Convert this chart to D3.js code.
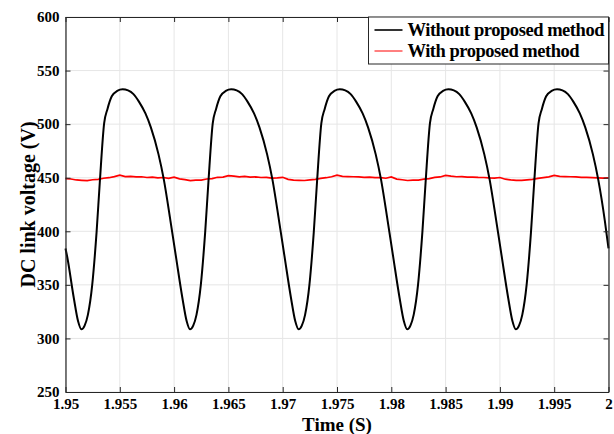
<!DOCTYPE html>
<html lang="en">
<head>
<meta charset="utf-8">
<title>DC link voltage</title>
<script src="https://d3js.org/d3.v7.min.js"></script>
<style>
  body { margin: 0; background: #fff; }
  text { font-family: "Liberation Serif", "Times New Roman", serif; font-weight: bold; }
</style>
</head>
<body>
<div id="chart"></div>
<script>
// Without proposed method (black) - time / voltage
const timeBlack = [
  1.95000, 1.95016, 1.95076, 1.95116,
  1.95146, 1.95176, 1.95206, 1.95246, 1.95286, 1.95316, 1.95356, 1.95386, 1.95426, 1.95476, 1.95526,
  1.95576, 1.95626, 1.95676, 1.95736, 1.95786, 1.95856, 1.95906, 1.95966, 1.96016, 1.96076, 1.96116,
  1.96146, 1.96176, 1.96206, 1.96246, 1.96286, 1.96316, 1.96356, 1.96386, 1.96426, 1.96476, 1.96526,
  1.96576, 1.96626, 1.96676, 1.96736, 1.96786, 1.96856, 1.96906, 1.96966, 1.97016, 1.97076, 1.97116,
  1.97146, 1.97176, 1.97206, 1.97246, 1.97286, 1.97316, 1.97356, 1.97386, 1.97426, 1.97476, 1.97526,
  1.97576, 1.97626, 1.97676, 1.97736, 1.97786, 1.97856, 1.97906, 1.97966, 1.98016, 1.98076, 1.98116,
  1.98146, 1.98176, 1.98206, 1.98246, 1.98286, 1.98316, 1.98356, 1.98386, 1.98426, 1.98476, 1.98526,
  1.98576, 1.98626, 1.98676, 1.98736, 1.98786, 1.98856, 1.98906, 1.98966, 1.99016, 1.99076, 1.99116,
  1.99146, 1.99176, 1.99206, 1.99246, 1.99286, 1.99316, 1.99356, 1.99386, 1.99426, 1.99476, 1.99526,
  1.99576, 1.99626, 1.99676, 1.99736, 1.99786, 1.99856, 1.99906, 1.99966, 2.00000
];
const voltBlack = [
  384, 376, 338, 316,
  308.5, 312, 322, 350, 399, 446, 501, 514, 526, 531, 532.5,
  531.5, 528, 521, 510, 497, 472, 448, 410, 377, 338, 316,
  308.5, 312, 322, 350, 399, 446, 501, 514, 526, 531, 532.5,
  531.5, 528, 521, 510, 497, 472, 448, 410, 377, 338, 316,
  308.5, 312, 322, 350, 399, 446, 501, 514, 526, 531, 532.5,
  531.5, 528, 521, 510, 497, 472, 448, 410, 377, 338, 316,
  308.5, 312, 322, 350, 399, 446, 501, 514, 526, 531, 532.5,
  531.5, 528, 521, 510, 497, 472, 448, 410, 377, 338, 316,
  308.5, 312, 322, 350, 399, 446, 501, 514, 526, 531, 532.5,
  531.5, 528, 521, 510, 497, 472, 448, 410, 384
];

// With proposed method (red) - sampled every 0.5 ms from 1.95 to 2.00
const timeRed = [
  1.9500, 1.9505, 1.9510, 1.9515, 1.9520, 1.9525, 1.9530, 1.9535, 1.9540, 1.9545,
  1.9550, 1.9555, 1.9560, 1.9565, 1.9570, 1.9575, 1.9580, 1.9585, 1.9590, 1.9595,
  1.9600, 1.9605, 1.9610, 1.9615, 1.9620, 1.9625, 1.9630, 1.9635, 1.9640, 1.9645,
  1.9650, 1.9655, 1.9660, 1.9665, 1.9670, 1.9675, 1.9680, 1.9685, 1.9690, 1.9695,
  1.9700, 1.9705, 1.9710, 1.9715, 1.9720, 1.9725, 1.9730, 1.9735, 1.9740, 1.9745,
  1.9750, 1.9755, 1.9760, 1.9765, 1.9770, 1.9775, 1.9780, 1.9785, 1.9790, 1.9795,
  1.9800, 1.9805, 1.9810, 1.9815, 1.9820, 1.9825, 1.9830, 1.9835, 1.9840, 1.9845,
  1.9850, 1.9855, 1.9860, 1.9865, 1.9870, 1.9875, 1.9880, 1.9885, 1.9890, 1.9895,
  1.9900, 1.9905, 1.9910, 1.9915, 1.9920, 1.9925, 1.9930, 1.9935, 1.9940, 1.9945,
  1.9950, 1.9955, 1.9960, 1.9965, 1.9970, 1.9975, 1.9980, 1.9985, 1.9990, 1.9995,
  2.0000
];
const voltRed = [
  449.2, 448.8, 447.9, 447.6, 447.3, 448.1, 448.4, 449.5, 450.0, 451.0,
  452.4, 451.1, 451.3, 450.8, 450.9, 450.2, 450.6, 449.9, 450.2, 449.4,
  450.6, 448.9, 448.2, 447.3, 447.8, 447.7, 448.8, 449.1, 450.4, 450.6,
  452.0, 451.5, 450.8, 451.2, 450.5, 450.7, 450.2, 450.3, 449.7, 449.8,
  450.4, 448.5, 447.8, 447.6, 447.4, 448.0, 448.5, 449.4, 450.0, 450.9,
  452.3, 451.2, 451.1, 450.9, 450.8, 450.3, 450.5, 450.0, 450.0, 449.5,
  450.8, 448.7, 448.1, 447.4, 447.7, 447.8, 448.7, 449.2, 450.3, 450.7,
  452.1, 451.4, 450.9, 451.1, 450.6, 450.6, 450.3, 450.2, 449.8, 449.7,
  450.2, 448.6, 447.9, 447.5, 447.5, 448.0, 448.5, 449.4, 450.1, 450.8,
  452.2, 451.2, 451.1, 450.9, 450.7, 450.4, 450.4, 450.1, 449.9, 449.6,
  449.8
];

const xTicks = [1.95, 1.955, 1.96, 1.965, 1.97, 1.975, 1.98, 1.985, 1.99, 1.995, 2];
const yTicks = [250, 300, 350, 400, 450, 500, 550, 600];
const legendLabels = ["Without proposed method", "With proposed method"];
const legendWidths = [197, 172];
const seriesColors = ["#000000", "#ff0000"];

const width = 614, height = 434;
const margin = { top: 17, right: 5.5, bottom: 42, left: 65.5 };
const innerW = width - margin.left - margin.right;
const innerH = height - margin.top - margin.bottom;

const svg = d3.select("#chart").append("svg")
  .attr("width", width)
  .attr("height", height);

const g = svg.append("g")
  .attr("transform", `translate(${margin.left},${margin.top})`);

const x = d3.scaleLinear().domain([1.95, 2]).range([0, innerW]);
const y = d3.scaleLinear().domain([250, 600]).range([innerH, 0]);

// grid
g.append("g").selectAll("line.gx")
  .data(xTicks).enter().append("line")
  .attr("x1", d => x(d)).attr("x2", d => x(d))
  .attr("y1", 0).attr("y2", innerH)
  .attr("stroke", "#e6e6e6").attr("stroke-width", 1);
g.append("g").selectAll("line.gy")
  .data(yTicks).enter().append("line")
  .attr("x1", 0).attr("x2", innerW)
  .attr("y1", d => y(d)).attr("y2", d => y(d))
  .attr("stroke", "#e6e6e6").attr("stroke-width", 1);

// lines
const blackData = timeBlack.map((t, i) => [t, voltBlack[i]]);
const redData = timeRed.map((t, i) => [t, voltRed[i]]);

g.append("path")
  .datum(redData)
  .attr("fill", "none")
  .attr("stroke", seriesColors[1])
  .attr("stroke-width", 1.7)
  .attr("d", d3.line().x(d => x(d[0])).y(d => y(d[1])));

g.append("path")
  .datum(blackData)
  .attr("fill", "none")
  .attr("stroke", seriesColors[0])
  .attr("stroke-width", 2)
  .attr("d", d3.line().curve(d3.curveMonotoneX).x(d => x(d[0])).y(d => y(d[1])));

// axes (ticks pointing inward, box all round)
const axisColor = "#262626";
const xAxis = g.append("g")
  .attr("transform", `translate(0,${innerH})`)
  .call(d3.axisBottom(x).tickValues(xTicks).tickSize(-5).tickSizeOuter(0)
    .tickFormat(d => d3.format("")(+d.toFixed(3))));
const yAxis = g.append("g")
  .call(d3.axisLeft(y).tickValues(yTicks).tickSize(-5).tickSizeOuter(0));
g.append("g")
  .call(d3.axisTop(x).tickValues(xTicks).tickSize(-5).tickSizeOuter(0).tickFormat(""));
g.append("g")
  .attr("transform", `translate(${innerW},0)`)
  .call(d3.axisRight(y).tickValues(yTicks).tickSize(-5).tickSizeOuter(0).tickFormat(""));

g.selectAll(".domain").attr("stroke", axisColor).attr("stroke-width", 1.2);
g.selectAll(".tick line").attr("stroke", axisColor);
g.selectAll(".tick text")
  .attr("fill", "#000")
  .style("font-size", "15px")
  .style("font-weight", "bold")
  .style("font-family", "'Liberation Serif', serif");
xAxis.selectAll(".tick text").attr("y", 6);
yAxis.selectAll(".tick text").attr("x", -6);

// axis labels
svg.append("text")
  .attr("x", margin.left + innerW / 2)
  .attr("y", 431)
  .attr("text-anchor", "middle")
  .style("font-size", "19px")
  .text("Time (S)");

svg.append("text")
  .attr("transform", `translate(35,${margin.top + innerH / 2}) rotate(-90)`)
  .attr("text-anchor", "middle")
  .style("font-size", "20px")
  .text("DC link voltage (V)");

// legend
const legend = g.append("g").attr("transform", `translate(${innerW - 240},0)`);
legend.append("rect")
  .attr("width", 240).attr("height", 47)
  .attr("fill", "#fff")
  .attr("stroke", axisColor).attr("stroke-width", 1);
legendLabels.forEach((lab, i) => {
  const ly = 13 + i * 21;
  legend.append("line")
    .attr("x1", 6).attr("x2", 34)
    .attr("y1", ly).attr("y2", ly)
    .attr("stroke", i === 0 ? "#333" : seriesColors[i])
    .attr("stroke-width", i === 0 ? 2 : 1);
  legend.append("text")
    .attr("x", 39).attr("y", ly + 6)
    .attr("textLength", legendWidths[i])
    .attr("lengthAdjust", "spacing")
    .style("font-size", "18.5px")
    .text(lab);
});
</script>
</body>
</html>
